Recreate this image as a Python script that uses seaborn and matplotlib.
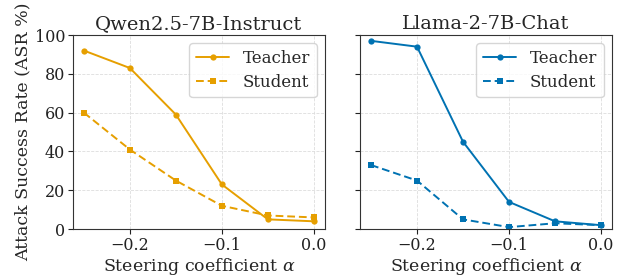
import numpy as np
import pandas as pd
import matplotlib
matplotlib.use("Agg")
import matplotlib.pyplot as plt
import seaborn as sns

# --- data ---
alpha = [-0.25, -0.20, -0.15, -0.10, -0.05, 0.0]
qwen_teacher = [92, 83, 59, 23, 5, 4]
qwen_student = [60, 41, 25, 12, 7, 6]
llama_teacher = [97, 94, 45, 14, 4, 2]
llama_student = [33, 25, 5, 1, 3, 2]

models = ["Qwen2.5-7B-Instruct", "Llama-2-7B-Chat"]
colors = {"Qwen2.5-7B-Instruct": "#E69F00", "Llama-2-7B-Chat": "#0072B2"}

rows = []
for m, t, s in [(models[0], qwen_teacher, qwen_student),
                (models[1], llama_teacher, llama_student)]:
    for a, v in zip(alpha, t):
        rows.append({"model": m, "alpha": a, "asr": v, "role": "Teacher"})
    for a, v in zip(alpha, s):
        rows.append({"model": m, "alpha": a, "asr": v, "role": "Student"})
df = pd.DataFrame(rows)

sns.set_style("whitegrid")
plt.rcParams.update({
    "font.family": "DejaVu Serif",
    "mathtext.fontset": "dejavuserif",
    "axes.edgecolor": "#333333",
    "axes.linewidth": 0.8,
    "grid.color": "#dddddd",
    "grid.linestyle": "--",
    "grid.linewidth": 0.6,
    "xtick.bottom": True,
    "ytick.left": True,
})

fig, axes = plt.subplots(1, 2, figsize=(6.17, 2.78), dpi=100, sharey=True)

for ax, m in zip(axes, models):
    sub = df[df["model"] == m]
    sns.lineplot(data=sub, x="alpha", y="asr", style="role",
                 markers={"Teacher": "o", "Student": "s"},
                 dashes={"Teacher": "", "Student": (4, 2)},
                 color=colors[m], markersize=4.5, linewidth=1.4,
                 markeredgewidth=0, ax=ax)
    ax.set_title(m, fontsize=14, pad=4)
    ax.set_xlabel(r"Steering coefficient $\alpha$", fontsize=12.5, labelpad=2)
    ax.set_xlim(-0.262, 0.012)
    ax.set_ylim(0, 100)
    ax.set_xticks([-0.2, -0.1, 0.0])
    ax.set_xticklabels(["\u22120.2", "\u22120.1", "0.0"])
    ax.set_yticks([0, 20, 40, 60, 80, 100])
    ax.tick_params(labelsize=11.5, length=3.5, width=0.8, pad=2, colors="#222222")
    ax.legend(loc="upper right", fontsize=12, frameon=True,
              handlelength=2.0, borderpad=0.4, labelspacing=0.4)

axes[0].set_ylabel("Attack Success Rate (ASR %)", fontsize=12.5, labelpad=2)
axes[1].set_ylabel("")
axes[1].tick_params(labelleft=False)

fig.subplots_adjust(left=0.118, right=0.992, bottom=0.176, top=0.874, wspace=0.139)
fig.savefig("out.png", dpi=100)
